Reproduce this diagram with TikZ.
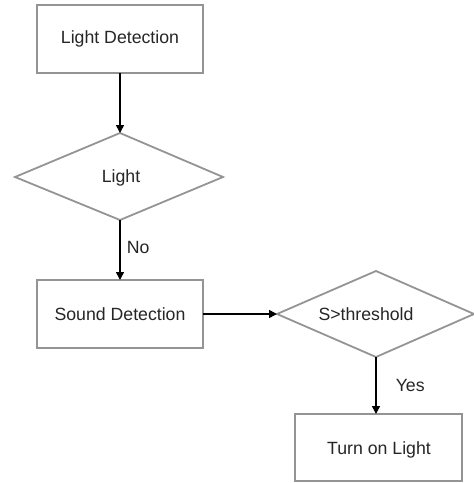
\documentclass[tikz,border=0pt]{standalone}
\usepackage{fontspec}
\setmainfont{Liberation Sans}
\usetikzlibrary{arrows.meta}
\begin{document}
\begin{tikzpicture}[x=1pt,y=-1pt,
  boxst/.style={draw=black!42, line width=1.8pt, fill=white},
  arr/.style={draw=black, line width=1.6pt, -{Triangle[length=8pt,width=8pt]}},
  lbl/.style={font=\fontsize{17.7}{20}\selectfont, inner sep=0pt, text=black!85},
]
\useasboundingbox (0,0) rectangle (474,483);
\begin{scope}
\clip (0,0) rectangle (474,483);
% boxes
\draw[boxst] (37,5) rectangle (203,73);
\coordinate (b1s) at (120,73);
\draw[boxst] (120,133) -- (223,177) -- (120,220) -- (15,177) -- cycle;
\coordinate (d1n) at (120,133);
\coordinate (d1s) at (120,220);
\draw[boxst] (37,280) rectangle (203,348);
\coordinate (b2n) at (120,280);
\coordinate (b2e) at (203,314);
\draw[boxst] (376,271) -- (474,314) -- (376,357) -- (277,314) -- cycle;
\coordinate (d2w) at (277,314);
\coordinate (d2s) at (376,357);
\draw[boxst] (295,414) rectangle (462,481);
\coordinate (b3n) at (376,414);
\end{scope}
% texts
\node[lbl] (t1) at (120,39) {Light Detection};
\node[lbl] (t2) at (121,178) {Light};
\node[lbl] (t3) at (120,314) {Sound Detection};
\node[lbl] (t4) at (366,314) {S>threshold};
\node[lbl] (t5) at (379,450) {Turn on Light};
% arrows
\draw[arr] (b1s) -- (d1n);
\draw[arr] (d1s) -- (b2n) node[lbl, pos=0.45, anchor=west, xshift=6pt] (no) {No};
\draw[arr] (b2e) -- (d2w);
\draw[arr] (d2s) -- (b3n) node[lbl, pos=0.5, anchor=west, xshift=19pt] (yes) {Yes};
\end{tikzpicture}
\end{document}
